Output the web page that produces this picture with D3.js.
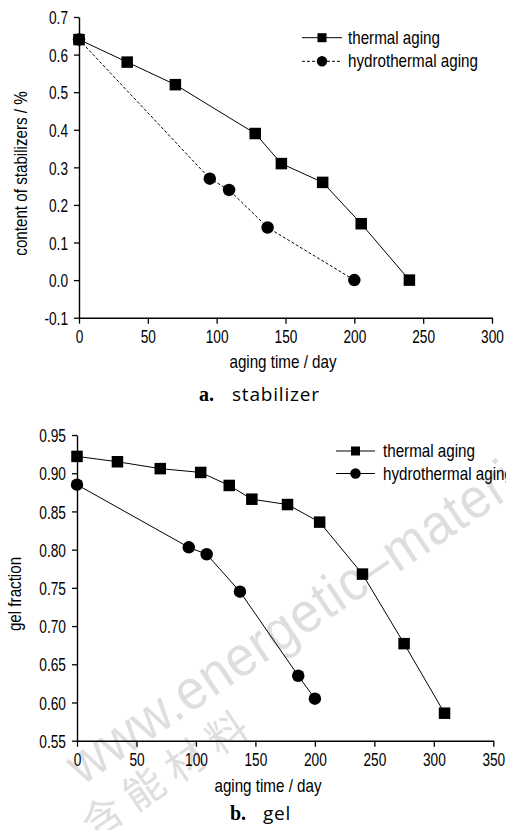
<!DOCTYPE html>
<html>
<head>
<meta charset="utf-8">
<script src="https://cdn.jsdelivr.net/npm/d3@7"></script>
<style>
  html, body { margin: 0; padding: 0; background: #fff; }
  svg { display: block; }
  .nar { font-family: "Liberation Sans", Arial, sans-serif; fill: #000; }
</style>
</head>
<body>
<svg id="fig" width="506" height="830"></svg>
<script>
// Stabilizer content (%) versus aging time (day)
const stabDaysThermal = [0, 35, 70, 128, 147, 177, 205, 240];
const stabThermal     = [0.64, 0.58, 0.52, 0.39, 0.31, 0.26, 0.15, 0.00];
const stabDaysHydro   = [0, 95, 109, 137, 200];
const stabHydro       = [0.64, 0.27, 0.24, 0.14, 0.00];

// Gel fraction versus aging time (day)
const gelDaysThermal = [0, 34, 70, 104, 128, 147, 177, 204, 240, 275, 309];
const gelThermal     = [0.922, 0.915, 0.906, 0.901, 0.884, 0.866, 0.859, 0.836, 0.768, 0.677, 0.586];
const gelDaysHydro   = [0, 94, 109, 137, 186, 200];
const gelHydro       = [0.885, 0.803, 0.794, 0.745, 0.635, 0.605];

// Axis ticks
const stabXTicks = [0, 50, 100, 150, 200, 250, 300];
const stabYTicks = [-0.1, 0.0, 0.1, 0.2, 0.3, 0.4, 0.5, 0.6, 0.7];
const gelXTicks  = [0, 50, 100, 150, 200, 250, 300, 350];
const gelYTicks  = [0.55, 0.60, 0.65, 0.70, 0.75, 0.80, 0.85, 0.90, 0.95];

const seriesNames = ["thermal aging", "hydrothermal aging"];

const svg = d3.select("#fig");
svg.append("rect").attr("width", 506).attr("height", 830).attr("fill", "#fff");

// Site watermark across the lower panel
const wm = svg.append("g").attr("fill", "#dedede")
  .style("font-family", "'Liberation Sans', Arial, sans-serif");
const wmText = wm.append("text")
  .attr("transform", "translate(82,786) rotate(-34)")
  .style("font-size", "56px")
  .attr("letter-spacing", "1")
  .text("www.energetic\u2013materials");
wmText.attr("textLength", (wmText.node().getComputedTextLength() * 0.93).toFixed(1))
  .attr("lengthAdjust", "spacingAndGlyphs");
wm.append("text")
  .attr("transform", "translate(94,840) rotate(-34)")
  .style("font-family", "'Noto Sans CJK SC', sans-serif")
  .style("font-size", "40px")
  .attr("letter-spacing", "10")
  .text("含能材料");

function panel(cfg) {
  const g = svg.append("g");
  const x = d3.scaleLinear().domain(cfg.xDomain).range(cfg.xRange);
  const y = d3.scaleLinear().domain(cfg.yDomain).range(cfg.yRange);

  const xAxis = g.append("g")
    .attr("transform", `translate(0,${cfg.yRange[0]})`)
    .call(d3.axisBottom(x).tickValues(cfg.xTicks).tickSize(6).tickPadding(5).tickSizeOuter(0));
  const yAxis = g.append("g")
    .attr("transform", `translate(${cfg.xRange[0]},0)`)
    .call(d3.axisLeft(y).tickValues(cfg.yTicks).tickSize(5).tickPadding(6).tickSizeOuter(0)
      .tickFormat(d => d.toFixed(cfg.yDecimals)));

  [xAxis, yAxis].forEach(a => {
    a.select(".domain").attr("stroke", "#000").attr("stroke-width", 1.4);
    a.selectAll(".tick line").attr("stroke", "#000").attr("stroke-width", 1.3);
    a.selectAll(".tick text").attr("class", "nar tk").attr("fill", "#000")
      .style("font-size", "18.5px");
  });
  xAxis.selectAll(".tick text").attr("dy", null).attr("y", cfg.xLabelBase);
  yAxis.selectAll(".tick text").attr("dy", "0.36em");

  const line = d3.line().x(d => x(d[0])).y(d => y(d[1]));

  cfg.series.forEach(s => {
    const pts = s.days.map((d, i) => [d, s.vals[i]]);
    g.append("path").datum(pts).attr("d", line)
      .attr("fill", "none").attr("stroke", "#000").attr("stroke-width", 1)
      .attr("stroke-dasharray", s.dash || null);
    if (s.shape === "square") {
      g.selectAll(null).data(pts).enter().append("rect")
        .attr("x", d => x(d[0]) - s.size / 2).attr("y", d => y(d[1]) - s.size / 2)
        .attr("width", s.size).attr("height", s.size).attr("fill", "#000");
    } else {
      g.selectAll(null).data(pts).enter().append("circle")
        .attr("cx", d => x(d[0])).attr("cy", d => y(d[1])).attr("r", s.size / 2)
        .attr("fill", "#000");
    }
  });

  // Legend
  cfg.series.forEach((s, i) => {
    const ly = cfg.legend.y[i];
    const lg = g.append("g");
    lg.append("line").attr("x1", cfg.legend.x0).attr("x2", cfg.legend.x1)
      .attr("y1", ly).attr("y2", ly).attr("stroke", "#000").attr("stroke-width", 1)
      .attr("stroke-dasharray", s.dash || null);
    const mx = (cfg.legend.x0 + cfg.legend.x1) / 2;
    if (s.shape === "square") {
      lg.append("rect").attr("x", mx - 4.5).attr("y", ly - 4.5).attr("width", 9).attr("height", 9).attr("fill", "#000");
    } else {
      lg.append("circle").attr("cx", mx).attr("cy", ly).attr("r", 5.2).attr("fill", "#000");
    }
    lg.append("text").attr("class", "nar tt").attr("x", cfg.legend.tx).attr("y", ly + 6)
      .style("font-size", "18.5px").text(seriesNames[i]);
  });

  // Axis titles
  g.append("text").attr("class", "nar tt").attr("text-anchor", "middle")
    .attr("x", cfg.xTitle[0]).attr("y", cfg.xTitle[1])
    .style("font-size", "18.5px").text("aging time / day");
  g.append("text").attr("class", "nar tt").attr("text-anchor", "middle")
    .attr("transform", `translate(${cfg.yTitle[0]},${cfg.yTitle[1]}) rotate(-90)`)
    .style("font-size", "18.5px").text(cfg.yLabel);

  // Caption
  const cap = g.append("text").attr("y", cfg.caption[1]);
  cap.append("tspan").attr("x", cfg.caption[0])
    .style("font-family", "'Liberation Serif', 'DejaVu Serif', serif")
    .style("font-weight", "bold").style("font-size", "20px").text(cfg.captionTag);
  cap.append("tspan").attr("x", cfg.caption[0] + 33)
    .style("font-family", "'Open Sans', sans-serif").style("font-size", "19px")
    .attr("letter-spacing", "0.8").text(cfg.captionText);
}

panel({
  xDomain: [0, 300], xRange: [79, 492],
  yDomain: [-0.1, 0.7], yRange: [317.7, 17],
  xTicks: stabXTicks, yTicks: stabYTicks, yDecimals: 1, xLabelBase: 25.5,
  series: [
    { days: stabDaysThermal, vals: stabThermal, shape: "square", size: 11.5 },
    { days: stabDaysHydro, vals: stabHydro, shape: "circle", size: 12.5, dash: "3,2" }
  ],
  legend: { x0: 302, x1: 342, tx: 348, y: [37.7, 61.3] },
  xTitle: [283, 368], yTitle: [26.5, 173.5],
  yLabel: "content of stabilizers / %",
  caption: [199, 401], captionTag: "a.", captionText: "stabilizer"
});

panel({
  xDomain: [0, 350], xRange: [77, 493.3],
  yDomain: [0.55, 0.95], yRange: [740.7, 435],
  xTicks: gelXTicks, yTicks: gelYTicks, yDecimals: 2, xLabelBase: 25.5,
  series: [
    { days: gelDaysThermal, vals: gelThermal, shape: "square", size: 11.5 },
    { days: gelDaysHydro, vals: gelHydro, shape: "circle", size: 12.5 }
  ],
  legend: { x0: 336, x1: 375, tx: 383, y: [451, 473.5] },
  xTitle: [268, 792], yTitle: [20.5, 594],
  yLabel: "gel fraction",
  caption: [230, 820], captionTag: "b.", captionText: "gel"
});

// Narrow the sans text horizontally to the condensed look of the figure
svg.selectAll("text.nar").each(function () {
  const f = this.classList.contains("tk") ? 0.74 : 0.82;
  const len = this.getComputedTextLength();
  d3.select(this).attr("textLength", (len * f).toFixed(1)).attr("lengthAdjust", "spacingAndGlyphs");
});
</script>
</body>
</html>
